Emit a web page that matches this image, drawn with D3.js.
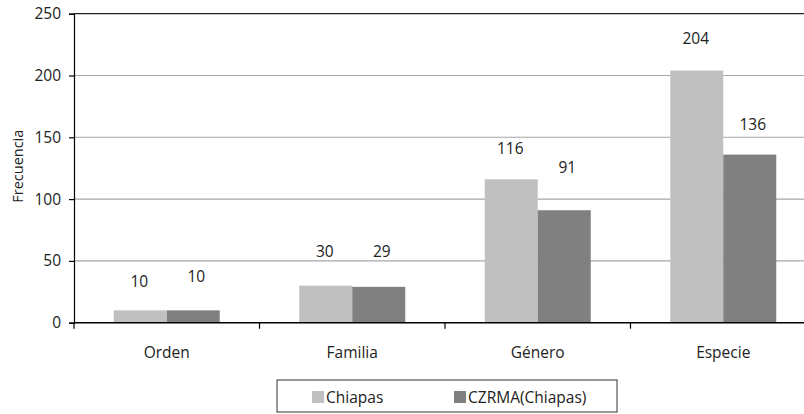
<!DOCTYPE html>
<html>
<head>
<meta charset="utf-8">
<script src="https://cdn.jsdelivr.net/npm/d3@7"></script>
<style>
  html, body { margin: 0; padding: 0; background: #fff; }
  svg { display: block; font-family: "Open Sans", "Noto Sans", sans-serif; }
</style>
</head>
<body>
<svg id="chart" width="804" height="414"></svg>
<script>
// Taxonomic levels and counts per source
const categories = ["Orden", "Familia", "Género", "Especie"];
const seriesNames = ["Chiapas", "CZRMA(Chiapas)"];
const chiapas = [10, 30, 116, 204];
const czrma = [10, 29, 91, 136];
const yTicks = [0, 50, 100, 150, 200, 250];
const colors = ["#c0c0c0", "#808080"];

// gap (px) between each bar top and the centre of its value label
const labelGap = [[28.6, 34, 31, 32], [34, 35, 43, 30]];

const svg = d3.select("#chart");
const plotLeft = 74, plotRight = 816, plotTop = 13.7, plotBottom = 322.7;

const x = d3.scaleBand().domain(categories).range([plotLeft, plotRight]).paddingInner(0).paddingOuter(0);
const inner = d3.scaleBand().domain(seriesNames).range([0, x.bandwidth()]).paddingInner(0).paddingOuter(0.75);
const y = d3.scaleLinear().domain([0, 250]).range([plotBottom, plotTop]);

// horizontal gridlines
svg.append("g").selectAll("line").data(yTicks.filter(d => d > 0 && d < 250)).join("line")
  .attr("x1", plotLeft).attr("x2", 804)
  .attr("y1", d => y(d)).attr("y2", d => y(d))
  .attr("stroke", "#a6a6a6").attr("stroke-width", 1.1);

// top frame line
svg.append("line").attr("x1", plotLeft).attr("x2", 804)
  .attr("y1", y(250)).attr("y2", y(250))
  .attr("stroke", "#222").attr("stroke-width", 1.2);

// bars
const rows = categories.map((c, i) => ({ cat: c, i, vals: [chiapas[i], czrma[i]] }));
const groups = svg.append("g").selectAll("g").data(rows).join("g")
  .attr("transform", d => `translate(${x(d.cat)},0)`);
const cells = d => d.vals.map((v, j) => ({ name: seriesNames[j], v, j, i: d.i }));
groups.selectAll("rect").data(cells).join("rect")
  .attr("x", d => inner(d.name))
  .attr("width", inner.bandwidth())
  .attr("y", d => y(d.v))
  .attr("height", d => plotBottom - y(d.v))
  .attr("fill", d => colors[d.j]);

// value labels
groups.selectAll("text").data(cells).join("text")
  .attr("x", d => inner(d.name) + inner.bandwidth() / 2 + (d.j === 0 ? -1 : 3))
  .attr("y", d => y(d.v) - labelGap[d.j][d.i] + 5.5)
  .attr("text-anchor", "middle")
  .attr("font-size", 15.5)
  .attr("fill", "#222")
  .text(d => d.v);

// y axis
const yAxis = svg.append("g").attr("transform", `translate(${plotLeft},0)`)
  .call(d3.axisLeft(y).tickValues(yTicks).tickSize(5).tickPadding(8));
yAxis.select(".domain").attr("stroke", "#000").attr("stroke-width", 1.2);
yAxis.selectAll(".tick line").attr("stroke", "#000").attr("stroke-width", 1.2);
yAxis.selectAll(".tick text").attr("font-size", 15.5).attr("fill", "#222")
  .attr("font-family", "Open Sans, Noto Sans, sans-serif");

// x axis with ticks at category boundaries
const xAxis = svg.append("g").attr("transform", `translate(0,${plotBottom})`);
xAxis.append("line").attr("x1", plotLeft).attr("x2", 804).attr("y1", 0).attr("y2", 0)
  .attr("stroke", "#000").attr("stroke-width", 1.6);
const bounds = categories.map(c => x(c));
xAxis.selectAll("line.b").data(bounds).join("line").attr("class", "b")
  .attr("x1", d => d).attr("x2", d => d).attr("y1", 0).attr("y2", 6)
  .attr("stroke", "#000").attr("stroke-width", 1.2);
xAxis.selectAll("text").data(categories).join("text")
  .attr("x", d => x(d) + x.bandwidth() / 2)
  .attr("y", 35)
  .attr("text-anchor", "middle")
  .attr("font-size", 15.5)
  .attr("fill", "#222")
  .text(d => d);

// y axis title
svg.append("text")
  .attr("transform", `translate(23,${(plotTop + plotBottom) / 2 - 2}) rotate(-90)`)
  .attr("text-anchor", "middle")
  .attr("font-size", 14.5)
  .attr("fill", "#222")
  .text("Frecuencia");

// legend
const legend = svg.append("g");
legend.append("rect").attr("x", 277).attr("y", 380).attr("width", 340).attr("height", 32)
  .attr("fill", "#fff").attr("stroke", "#333").attr("stroke-width", 1);
const legX = [312, 454];
seriesNames.forEach((n, i) => {
  legend.append("rect").attr("x", legX[i]).attr("y", 391).attr("width", 12).attr("height", 12)
    .attr("fill", colors[i]);
  legend.append("text").attr("x", legX[i] + 14).attr("y", 402.5)
    .attr("font-size", 15.5).attr("fill", "#222").text(n);
});
</script>
</body>
</html>
